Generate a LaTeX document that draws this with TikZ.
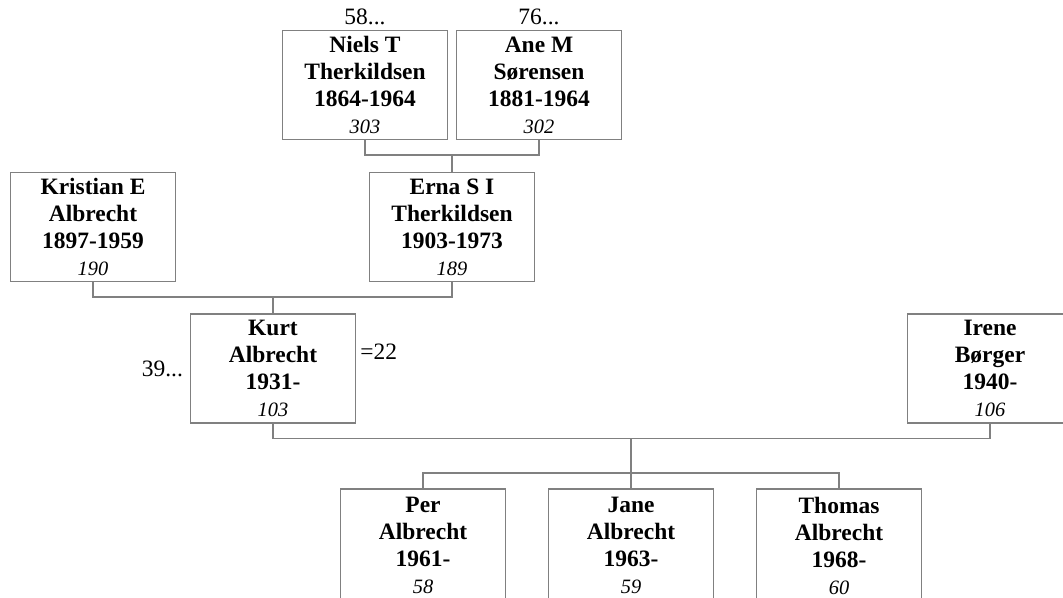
\documentclass[tikz,border=0pt]{standalone}
\usepackage{fontspec}
\setmainfont{Liberation Serif}
\usetikzlibrary{positioning}
\definecolor{linegray}{RGB}{128,128,128}
\begin{document}
\begin{tikzpicture}[x=0.75pt, y=-0.75pt,
	person/.style={draw=linegray, line width=0.8pt, minimum width=124pt, minimum height=81.75pt, inner sep=0pt, align=center, font=\fontsize{17.6}{20.2}\selectfont\bfseries},
	kid/.style={person, minimum height=95pt, text depth=10pt},
	ref/.style={inner sep=0pt, font=\fontsize{17.6}{20}\selectfont},
	link/.style={draw=linegray, line width=0.8pt}]
		\clip (0,0) rectangle (1063,598);
		
		%grandparents
		\node[person] (niels) at (365, 85){Niels T\\Therkildsen\\1864-1964\\{\mdseries\itshape\fontsize{15.3}{20.2}\selectfont 303}};
		\node[person] (ane) at (539, 85){Ane M\\Sørensen\\1881-1964\\{\mdseries\itshape\fontsize{15.3}{20.2}\selectfont 302}};
		\node[ref, above=3.75pt of niels] (nielsref){58...};
		\node[ref, above=3.75pt of ane] (aneref){76...};
		
		%parents
		\node[person] (kristian) at (93, 227){Kristian E\\Albrecht\\1897-1959\\{\mdseries\itshape\fontsize{15.3}{20.2}\selectfont 190}};
		\node[person] (erna) at (452, 227){Erna S I\\Therkildsen\\1903-1973\\{\mdseries\itshape\fontsize{15.3}{20.2}\selectfont 189}};
		
		\node[person] (kurt) at (273, 368.5){Kurt\\Albrecht\\1931-\\{\mdseries\itshape\fontsize{15.3}{20.2}\selectfont 103}};
		\node[person] (irene) at (990, 368.5){Irene\\Børger\\1940-\\{\mdseries\itshape\fontsize{15.3}{20.2}\selectfont 106}};
		\node[ref, left=5pt of kurt] (kurtref){39...};
		\node[ref, anchor=base west] (kurtspouse) at ([xshift=3pt, yshift=7pt]kurt.east){=22};
		
		%children
		\node[kid] (per) at (423, 552.3){Per\\Albrecht\\1961-\\{\mdseries\itshape\fontsize{15.3}{20.2}\selectfont 58}};
		\node[kid] (jane) at (631, 552.3){Jane\\Albrecht\\1963-\\{\mdseries\itshape\fontsize{15.3}{20.2}\selectfont 59}};
		\node[kid] (thomas) at (839, 552.3){Thomas\\Albrecht\\1968-\\{\mdseries\itshape\fontsize{15.3}{20.2}\selectfont 60}};
		
		%lines
		\coordinate (nielsane) at (452, 155);
		\coordinate (kristianerna) at (273, 297);
		\coordinate (kurtirene) at (631, 438.5);
		\coordinate (kids) at (631, 473);
		\draw[link] (niels.south) |- (nielsane) -| (ane.south);
		\draw[link] (nielsane) -- (erna.north);
		\draw[link] (kristian.south) |- (kristianerna) -| (erna.south);
		\draw[link] (kristianerna) -- (kurt.north);
		\draw[link] (kurt.south) |- (kurtirene) -| (irene.south);
		\draw[link] (kurtirene) -- (kids);
		\draw[link] (per.north) |- (kids) -| (thomas.north);
		\draw[link] (kids) -- (jane.north);
\end{tikzpicture}
\end{document}
